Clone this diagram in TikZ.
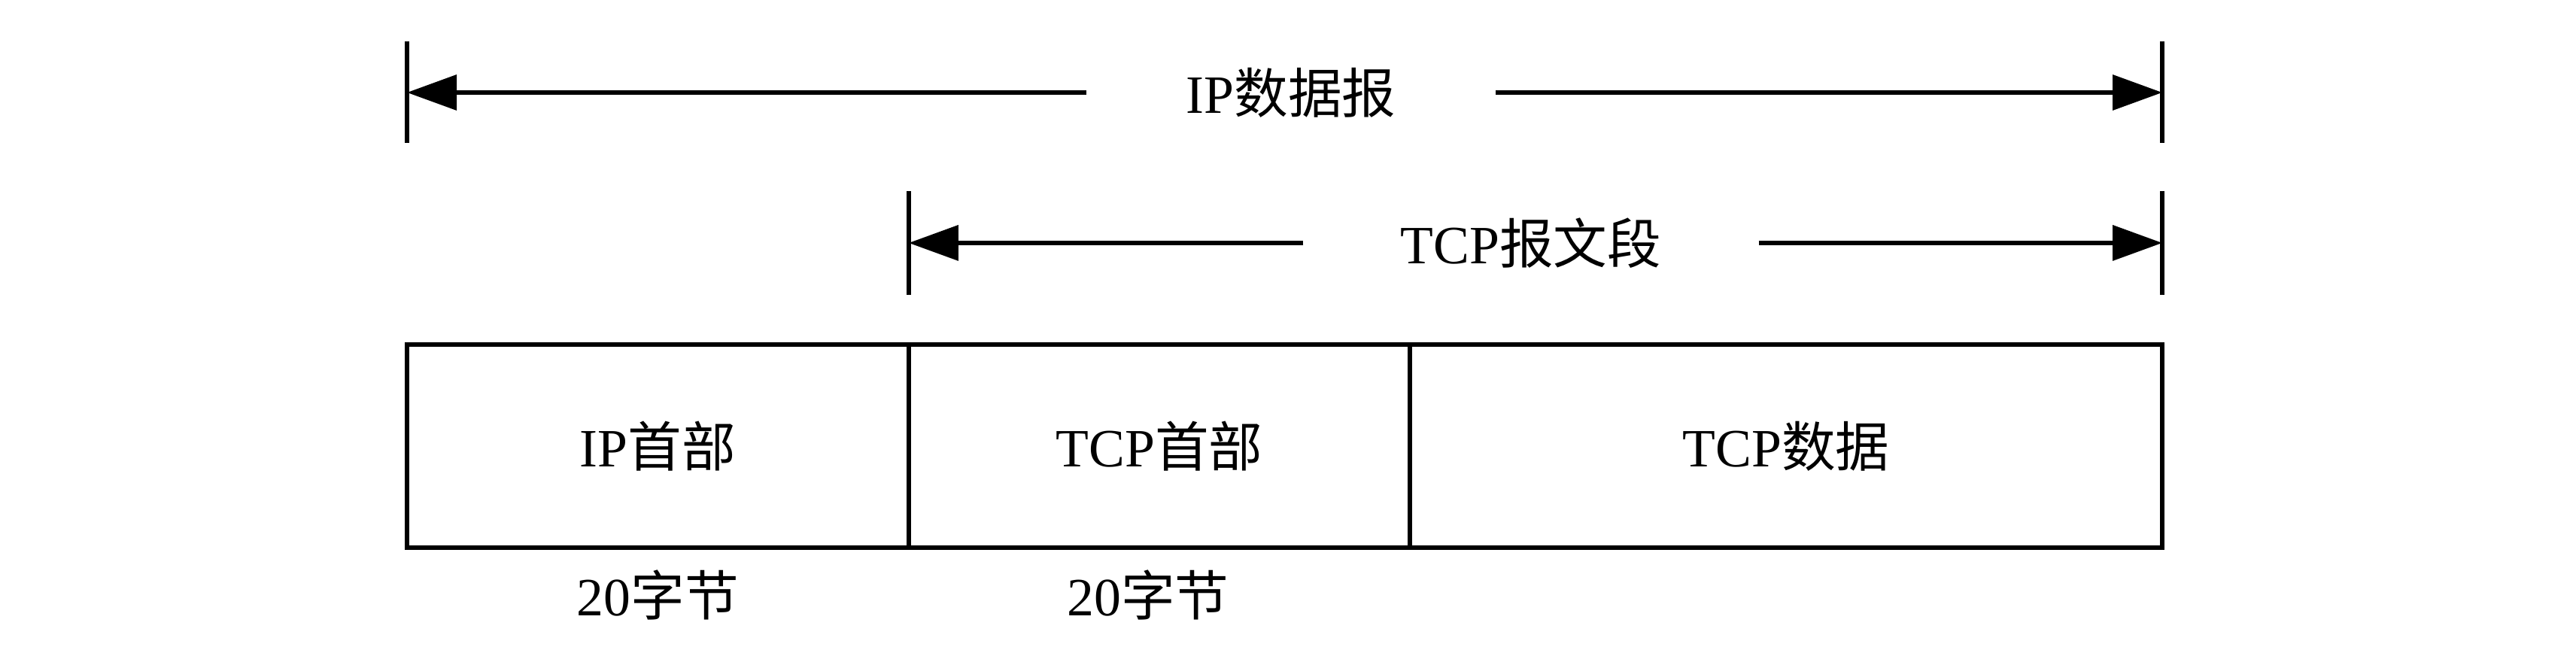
\documentclass[tikz,border=0pt]{standalone}
\usepackage{fontspec}
\setmainfont{Liberation Serif}
\newfontfamily\cjk{Noto Sans CJK SC}
\usetikzlibrary{arrows.meta,positioning}
\newcommand{\zh}[1]{{\cjk #1}}

\begin{document}
\begin{tikzpicture}[
    font=\fontsize{13.6}{16}\selectfont,
    line width=1pt,
    seg/.style={draw, outer sep=0pt, minimum height=1.8cm},
    dim/.style={-{Triangle[length=4.4mm,width=3.1mm]}},
    ]
    \useasboundingbox (0,0) rectangle (22.827,5.92);

    % the three parts of the datagram
    \node[seg, minimum width=4.446cm] (iphdr) at (5.83,1.967) {IP\zh{首部}};
    \node[seg, minimum width=4.44cm, right=0pt of iphdr] (tcphdr) {TCP\zh{首部}};
    \node[seg, minimum width=6.667cm, right=0pt of tcphdr] (tcpdata) {TCP\zh{数据}};

    \node (iplen) at ([yshift=-4.2mm]iphdr.south) {20\zh{字节}};
    \node (tcplen) at ([xshift=-1mm,yshift=-4.2mm]tcphdr.south) {20\zh{字节}};

    % IP datagram
    \node[minimum width=3.59cm] (ipdg) at (11.44,5.1) {IP\zh{数据报}};
    \coordinate (ipL) at (iphdr.west |- ipdg);
    \coordinate (ipR) at (tcpdata.east |- ipdg);
    \draw ([yshift=4.5mm]ipL) -- ([yshift=-4.5mm]ipL);
    \draw ([yshift=4.5mm]ipR) -- ([yshift=-4.5mm]ipR);
    \draw[dim] (ipdg.west) -- (ipL);
    \draw[dim] (ipdg.east) -- (ipR);

    % TCP segment
    \node[minimum width=4.0cm] (tcpseg) at (13.567,3.767) {TCP\zh{报文段}};
    \coordinate (tcpL) at (tcphdr.west |- tcpseg);
    \coordinate (tcpR) at (tcpdata.east |- tcpseg);
    \draw ([yshift=4.6mm]tcpL) -- ([yshift=-4.6mm]tcpL);
    \draw ([yshift=4.6mm]tcpR) -- ([yshift=-4.6mm]tcpR);
    \draw[dim] (tcpseg.west) -- (tcpL);
    \draw[dim] (tcpseg.east) -- (tcpR);
\end{tikzpicture}
\end{document}
